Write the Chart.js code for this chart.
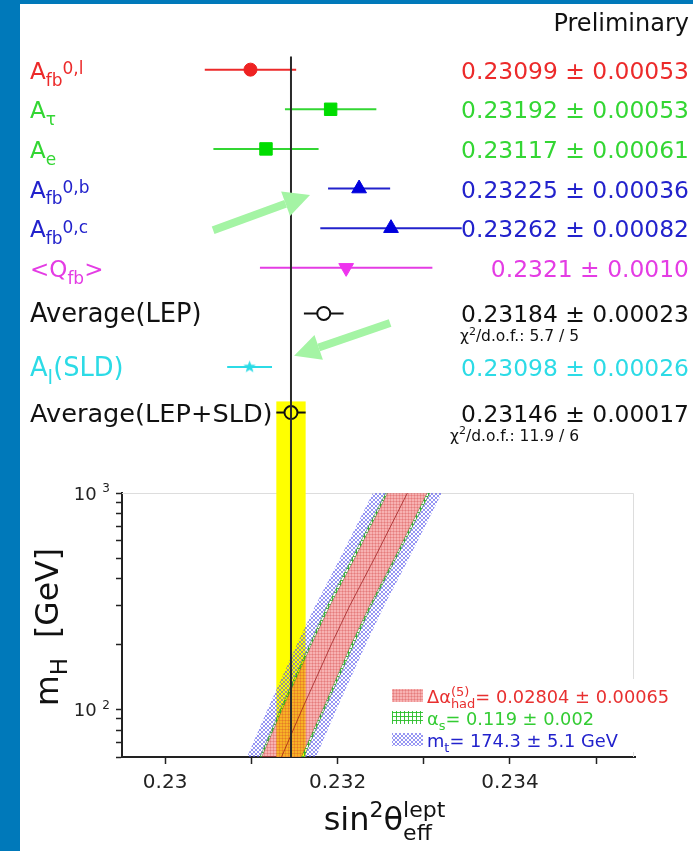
<!DOCTYPE html>
<html><head><meta charset="utf-8">
<script src="https://cdn.jsdelivr.net/npm/chart.js@4"></script>
<style>html,body{margin:0;padding:0;background:#0079ba;overflow:hidden}canvas{display:block}</style>
</head><body>
<canvas id="c" width="693" height="851"></canvas>
<script>
// ================= DATA =================
// upper panel: measurements of sin^2 theta_eff^lept
const rowLabels = [
  [{t:'A'},{t:'fb',s:'sub'},{t:'0,l',s:'sup'}],
  [{t:'A'},{t:'τ',s:'sub'}],
  [{t:'A'},{t:'e',s:'sub'}],
  [{t:'A'},{t:'fb',s:'sub'},{t:'0,b',s:'sup'}],
  [{t:'A'},{t:'fb',s:'sub'},{t:'0,c',s:'sup'}],
  [{t:'<Q'},{t:'fb',s:'sub'},{t:'>'}],
  [{t:'Average(LEP)'}],
  [{t:'A'},{t:'l',s:'sub'},{t:'(SLD)'}],
  [{t:'Average(LEP+SLD)'}]
];
const rowValues = [0.23099, 0.23192, 0.23117, 0.23225, 0.23262, 0.2321, 0.23184, 0.23098, 0.23146];
const rowErrors = [0.00053, 0.00053, 0.00061, 0.00036, 0.00082, 0.0010, 0.00023, 0.00026, 0.00017];
const rowValueText = ['0.23099 ± 0.00053','0.23192 ± 0.00053','0.23117 ± 0.00061','0.23225 ± 0.00036',
  '0.23262 ± 0.00082','0.2321 ± 0.0010','0.23184 ± 0.00023','0.23098 ± 0.00026','0.23146 ± 0.00017'];
const chi2Rows = [6, 8];
const chi2Text = ['5.7 / 5', '11.9 / 6'];

// lower panel: bands in (sin^2 theta, m_H) plane, edges read at these m_H values
const bandMH       = [60, 100, 200, 300, 500, 1000];
const blueLeft     = [0.23095, 0.23119, 0.23153, 0.23174, 0.23203, 0.23241];
const greenLeft    = [0.23110, 0.23134, 0.23168, 0.23188, 0.23217, 0.23256];
const redLeft      = [0.23112, 0.23136, 0.23170, 0.23191, 0.23220, 0.23258];
const bandCentre   = [0.23135, 0.23159, 0.23193, 0.23214, 0.23243, 0.23281];
const redRight     = [0.23158, 0.23183, 0.23216, 0.23237, 0.23266, 0.23304];
const greenRight   = [0.23161, 0.23185, 0.23219, 0.23239, 0.23268, 0.23307];
const blueRight    = [0.23175, 0.23199, 0.23233, 0.23254, 0.23283, 0.23321];

const legendEntries = [
  [{t:'Δα'},{sup:'(5)',sub:'had'},{t:'= 0.02804 ± 0.00065'}],
  [{t:'α'},{t:'s',s:'sub'},{t:'= 0.119 ± 0.002'}],
  [{t:'m'},{t:'t',s:'sub'},{t:'= 174.3 ± 5.1 GeV'}]
];

const xTickValues = [0.230, 0.231, 0.232, 0.233, 0.234, 0.235];
const xTickLabels = ['0.23', '', '0.232', '', '0.234', ''];
const yTickValues = [60, 70, 80, 90, 100, 200, 300, 400, 500, 600, 700, 800, 900, 1000];
const yLabelTicks = [100, 1000];

// ================= LAYOUT / STYLE =================
const FONT = "'DejaVu Sans', 'Liberation Sans', sans-serif";
const rowSlot = [1, 2, 3, 4, 5, 6, 7.15, 8.5, 9.65];
const rowColors = ['#ec2a2a','#33d633','#33d633','#2222cc','#2222cc','#e43ce4','#111111','#2cdbe6','#111111'];
const rowLabelSize = [23,23,23,23,23,23,25.7,25.7,25.6];
const arrows = [ {from:[0.230557, 5.05], to:[0.231681, 4.16]},
                 {from:[0.232609, 7.39], to:[0.231496, 8.22]} ];

function pattern(draw, w, h) {
  const cv = document.createElement('canvas'); cv.width = w; cv.height = h;
  draw(cv.getContext('2d'));
  return cv.getContext('2d').createPattern(cv, 'repeat');
}
const redPat = pattern(g => {
  g.fillStyle = 'rgba(238,85,85,0.45)'; g.fillRect(0,0,3,3);
  g.fillStyle = 'rgba(200,40,40,0.22)'; g.fillRect(0,0,3,1); g.fillRect(0,0,1,3);
}, 3, 3);
const bluePat = pattern(g => {
  g.fillStyle = 'rgba(80,80,235,0.6)';
  [[1,0],[2,0],[0,1],[3,1],[0,2],[3,2],[1,3],[2,3]].forEach(p => g.fillRect(p[0],p[1],1,1));
}, 4, 4);
const greenPat = pattern(g => {
  g.fillStyle = 'rgba(40,190,40,0.9)'; g.fillRect(0,0,1,4); g.fillRect(0,0,4,1);
}, 4, 4);

function makeStar(color, R) {
  const s = Math.ceil(R*2)+2, cv = document.createElement('canvas'); cv.width = cv.height = s;
  const g = cv.getContext('2d'); g.fillStyle = color; g.beginPath();
  for (let k = 0; k < 10; k++) {
    const r = k % 2 ? R*0.42 : R, a = -Math.PI/2 + k*Math.PI/5;
    const px = s/2 + r*Math.cos(a), py = s/2 + r*Math.sin(a);
    if (k) g.lineTo(px, py); else g.moveTo(px, py);
  }
  g.closePath(); g.fill(); return cv;
}
const starImg = makeStar('#2cdbe6', 6.5);

// ================= rich text helper =================
function layoutRich(ctx, segs, size, ratio, rise) {
  const sm = Math.round(size*(ratio || 0.68)), up = size*(rise || 0.42), items = []; let w = 0;
  for (const g of segs) {
    if (g.t !== undefined && !g.s) {
      ctx.font = size + 'px ' + FONT; items.push({t:g.t, dx:w, dy:0, f:size}); w += ctx.measureText(g.t).width;
    } else if (g.t !== undefined) {
      ctx.font = sm + 'px ' + FONT;
      items.push({t:g.t, dx:w, dy: g.s === 'sub' ? size*0.3 : -up, f:sm}); w += ctx.measureText(g.t).width;
    } else {
      ctx.font = sm + 'px ' + FONT;
      items.push({t:g.sup, dx:w, dy:-up, f:sm}); items.push({t:g.sub, dx:w, dy:size*0.3, f:sm});
      w += Math.max(ctx.measureText(g.sup).width, ctx.measureText(g.sub).width);
    }
  }
  return {items, w};
}
function drawRich(ctx, segs, x, y, size, color, align, ratio, rise) {
  const {items, w} = layoutRich(ctx, segs, size, ratio, rise);
  const x0 = align === 'right' ? x - w : align === 'center' ? x - w/2 : x;
  ctx.fillStyle = color; ctx.textAlign = 'left'; ctx.textBaseline = 'alphabetic';
  for (const it of items) { ctx.font = it.f + 'px ' + FONT; ctx.fillText(it.t, x0 + it.dx, y + it.dy); }
}
function drawArrow(c, x1, y1, x2, y2) {
  const ang = Math.atan2(y2-y1, x2-x1), hl = 26, hw = 13;
  const bx = x2 - hl*Math.cos(ang), by = y2 - hl*Math.sin(ang);
  c.strokeStyle = c.fillStyle = '#a4f4a4'; c.lineWidth = 8; c.lineCap = 'butt';
  c.beginPath(); c.moveTo(x1, y1); c.lineTo(bx, by); c.stroke();
  c.beginPath(); c.moveTo(x2, y2);
  c.lineTo(bx + hw*Math.sin(ang), by - hw*Math.cos(ang));
  c.lineTo(bx - hw*Math.sin(ang), by + hw*Math.cos(ang)); c.closePath(); c.fill();
}

// ================= DATASETS =================
const pts = (xs) => xs.map((x, i) => ({x, y: bandMH[i]}));
const poly = (l, r) => pts(l).concat(pts(r).reverse());
const datasets = [];
datasets.push({
  type: 'scatter', label: 'markers', yAxisID: 'rows', order: 0,
  data: rowValues.map((v, i) => ({x: v, y: rowSlot[i]})),
  pointStyle: ['circle','rect','rect','triangle','triangle','triangle','circle', starImg,'circle'],
  pointRotation: [0,0,0,0,0,180,0,0,0],
  pointRadius: [6.5, 8.8, 8.8, 8.5, 8.5, 8.5, 6.5, 6, 6.5],
  pointBackgroundColor: ['#ee2222','#00dd00','#00dd00','#0000dd','#0000dd','#ee33ee','#ffffff','#2cdbe6','#ffff00'],
  pointBorderColor: ['#ee2222','#00dd00','#00dd00','#0000dd','#0000dd','#ee33ee','#111111','#2cdbe6','#111111'],
  pointBorderWidth: [1,1,1,1,1,1,2,1,2]
});
rowValues.forEach((v, i) => datasets.push({
  type: 'line', label: 'err' + i, yAxisID: 'rows', order: 1,
  data: [{x: v - rowErrors[i], y: rowSlot[i]}, {x: v + rowErrors[i], y: rowSlot[i]}],
  borderColor: rowColors[i], borderWidth: 2, pointRadius: 0, fill: false
}));
datasets.push({ type:'line', label:'centre', yAxisID:'mh', order: 2, data: pts(bandCentre),
  borderColor:'rgba(150,20,20,0.7)', borderWidth: 1, pointRadius: 0, fill: false });
datasets.push({ type:'line', label:'dalpha', yAxisID:'mh', order: 3, data: poly(redLeft, redRight),
  borderWidth: 0, borderColor:'rgba(0,0,0,0)', backgroundColor: redPat, pointRadius: 0, fill: 'shape' });
datasets.push({ type:'line', label:'alphas L', yAxisID:'mh', order: 4, data: poly(greenLeft, redLeft),
  borderWidth: 0.8, borderColor:'rgba(40,110,40,0.7)', backgroundColor: greenPat, pointRadius: 0, fill: 'shape' });
datasets.push({ type:'line', label:'alphas R', yAxisID:'mh', order: 4, data: poly(redRight, greenRight),
  borderWidth: 0.8, borderColor:'rgba(40,110,40,0.7)', backgroundColor: greenPat, pointRadius: 0, fill: 'shape' });
datasets.push({ type:'line', label:'mt L', yAxisID:'mh', order: 5, data: poly(blueLeft, greenLeft),
  borderWidth: 0, borderColor:'rgba(0,0,0,0)', backgroundColor: bluePat, pointRadius: 0, fill: 'shape' });
datasets.push({ type:'line', label:'mt R', yAxisID:'mh', order: 5, data: poly(greenRight, blueRight),
  borderWidth: 0, borderColor:'rgba(0,0,0,0)', backgroundColor: bluePat, pointRadius: 0, fill: 'shape' });

// ================= PLUGIN =================
const decor = {
  id: 'decor',
  beforeDraw(chart) {
    const c = chart.ctx; c.save();
    c.fillStyle = '#0079ba'; c.fillRect(0, 0, chart.width, chart.height);
    c.fillStyle = '#ffffff'; c.fillRect(20, 4, chart.width - 20, chart.height - 4);
    c.restore();
  },
  beforeDatasetsDraw(chart) {
    const c = chart.ctx, {x, rows, mh} = chart.scales, a = chart.chartArea;
    c.save();
    c.strokeStyle = '#dddddd'; c.lineWidth = 1;
    c.beginPath(); c.moveTo(a.left, mh.top + 0.5); c.lineTo(a.right - 1.5, mh.top + 0.5); c.lineTo(a.right - 1.5, a.bottom); c.stroke();
    const i = 8;
    const xl = x.getPixelForValue(rowValues[i] - rowErrors[i]), xr = x.getPixelForValue(rowValues[i] + rowErrors[i]);
    const top = rows.getPixelForValue(rowSlot[i] - 0.28);
    c.fillStyle = '#ffff00'; c.fillRect(xl, top, xr - xl, a.bottom - top);
    c.restore();
  },
  afterDatasetsDraw(chart) {
    const c = chart.ctx, {x, rows} = chart.scales, a = chart.chartArea;
    c.save();
    const xv = x.getPixelForValue(rowValues[8]);
    c.strokeStyle = '#2a2a2a'; c.lineWidth = 2;
    c.beginPath(); c.moveTo(xv, rows.getPixelForValue(0.67)); c.lineTo(xv, a.bottom); c.stroke();
    // legend
    c.fillStyle = '#ffffff'; c.fillRect(388, 679, 281, 73);
    const sw = [redPat, greenPat, bluePat], base = [703, 725, 747];
    const lc = ['#e83030', '#33cc33', '#2222cc'];
    legendEntries.forEach((e, k) => {
      c.fillStyle = '#ffffff'; c.fillRect(392, base[k] - 14, 31, 13);
      c.fillStyle = sw[k]; c.fillRect(392, base[k] - 14, 31, 13);
      drawRich(c, e, 427, base[k], 17.8, lc[k], 'left', 0.72);
    });
    c.restore();
  },
  afterDraw(chart) {
    const c = chart.ctx, {x, rows, mh} = chart.scales, a = chart.chartArea;
    c.save();
    drawRich(c, [{t:'Preliminary'}], 689, 31, 24, '#111', 'right');
    rowLabels.forEach((l, i) => {
      const y = rows.getPixelForValue(rowSlot[i]);
      drawRich(c, l, 30, y + 9, rowLabelSize[i], rowColors[i], 'left', 0.76, 0.2);
      drawRich(c, [{t: rowValueText[i]}], 689, y + 9, 23.4, rowColors[i], 'right');
    });
    chi2Rows.forEach((r, k) => {
      const y = rows.getPixelForValue(rowSlot[r]);
      drawRich(c, [{t:'χ'},{t:'2',s:'sup'},{t:'/d.o.f.: ' + chi2Text[k]}], 579, y + 28, 15.5, '#111', 'right');
    });
    yLabelTicks.forEach(v => {
      const y = mh.getPixelForValue(v);
      drawRich(c, [{t:'10 '},{t:String(Math.round(Math.log10(v))), s:'sup'}], 110, y + 7, 18, '#222', 'right');
    });
    drawRich(c, [{t:'sin'},{t:'2',s:'sup'},{t:'θ'},{sup:'lept', sub:'eff'}], (a.left + a.right)/2 + 6, 830, 32, '#111', 'center');
    c.translate(58, (mh.top + mh.bottom)/2 + 2); c.rotate(-Math.PI/2);
    drawRich(c, [{t:'m'},{t:'H',s:'sub'},{t:'  [GeV]'}], 0, 0, 31.5, '#111', 'center', 0.72);
    c.setTransform(1,0,0,1,0,0);
    arrows.forEach(ar => drawArrow(c, x.getPixelForValue(ar.from[0]), rows.getPixelForValue(ar.from[1]),
                                      x.getPixelForValue(ar.to[0]), rows.getPixelForValue(ar.to[1])));
    c.restore();
  }
};

new Chart(document.getElementById('c'), {
  type: 'scatter',
  data: { datasets },
  plugins: [decor],
  options: {
    responsive: false, animation: false, devicePixelRatio: 1,
    layout: { padding: { left: 0, right: 58, top: 30, bottom: 0 } },
    plugins: { legend: { display: false }, tooltip: { enabled: false } },
    elements: { line: { tension: 0 } },
    scales: {
      x: {
        type: 'linear', position: 'bottom', min: 0.2295, max: 0.23545,
        afterBuildTicks: s => { s.ticks = xTickValues.map(v => ({value: v})); },
        afterFit: s => { s.height = 94; },
        grid: { drawOnChartArea: false, drawTicks: true, tickLength: 7, color: '#222', tickWidth: 1.5 },
        border: { display: true, color: '#222', width: 2 },
        ticks: { autoSkip: false, maxRotation: 0, padding: 7, color: '#222', font: { family: FONT, size: 20 },
          callback: v => { const i = xTickValues.findIndex(t => Math.abs(t - v) < 1e-9); return i >= 0 ? xTickLabels[i] : ''; } }
      },
      rows: {
        type: 'linear', position: 'left', stack: 'v', stackWeight: 463, weight: 1,
        min: 0, max: 11.68, reverse: true, display: false
      },
      mh: {
        type: 'logarithmic', position: 'left', stack: 'v', stackWeight: 264, weight: 0,
        min: 60, max: 1000,
        afterBuildTicks: s => { s.ticks = yTickValues.map(v => ({value: v})); },
        afterFit: s => { s.width = 122; },
        grid: { drawOnChartArea: false, drawTicks: true, tickLength: 6, color: '#222', tickWidth: 1.5 },
        border: { display: true, color: '#222', width: 2 },
        ticks: { display: false }
      }
    }
  }
});
</script>
</body></html>
